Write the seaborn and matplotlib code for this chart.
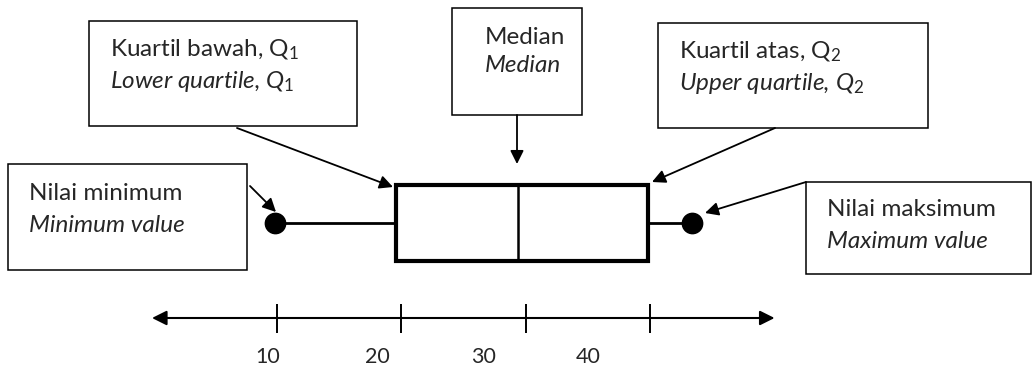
import numpy as np
import matplotlib
matplotlib.use('Agg')
import matplotlib.pyplot as plt
from matplotlib.patches import Rectangle
import seaborn as sns

# five-number summary
stats = [9.9, 19.6, 29.4, 39.8, 43.4]   # min, Q1, median, Q3, max
ticks = [10, 20, 30, 40]
tick_labels = ['10', '20', '30', '40']
line_range = [0, 50]

labels_upright = ['Kuartil bawah, Q$_1$', 'Median', 'Kuartil atas, Q$_2$',
                  'Nilai minimum', 'Nilai maksimum']
labels_italic = ['Lower quartile, Q$_{\\mathit{1}}$', 'Median', 'Upper quartile, Q$_{\\mathit{2}}$',
                 'Minimum value', 'Maximum value']

sns.set_style('white')
plt.rcParams['font.family'] = ['Lato', 'DejaVu Sans']
plt.rcParams['mathtext.fontset'] = 'custom'
plt.rcParams['mathtext.rm'] = 'Lato'
plt.rcParams['mathtext.it'] = 'Lato:italic'
plt.rcParams['mathtext.bf'] = 'Lato:bold'

W, H = 1035, 370
fig = plt.figure(figsize=(W / 100, H / 100), dpi=100)
xlim = (-12.21, 70.92)

# number line axes (x in data, y in pixel rows)
ax = fig.add_axes([0, 0, 1, 1])
ax.set_xlim(*xlim)
ax.set_ylim(H, 0)
ax.axis('off')

ax.annotate('', xy=(line_range[1], 318), xytext=(line_range[0], 318),
            arrowprops=dict(arrowstyle='<|-|>', color='black', lw=1.5,
                            mutation_scale=22, shrinkA=0, shrinkB=0))
ax.vlines(ticks, 304, 333, color='black', lw=1.4)
label_x = [9.3, 18.1, 26.6, 35.0]
for lx, t in zip(label_x, tick_labels):
    ax.text(lx, 357, t, ha='center', va='center', fontsize=15.5)

# box plot axes
bax = fig.add_axes([0, 1 - 270.5 / H, 1, 95 / H])
sns.boxplot(x=stats, ax=bax, whis=np.inf, width=0.8, showcaps=False,
            color='white', linecolor='black', linewidth=2,
            boxprops=dict(linewidth=3), medianprops=dict(linewidth=1.8),
            whiskerprops=dict(linewidth=2))
sns.scatterplot(x=[stats[0], stats[-1]], y=[0, 0], ax=bax, color='black',
                s=210, edgecolor='black', zorder=5)
bax.set_xlim(*xlim)
bax.set_ylim(0.5, -0.5)
bax.axis('off')
bax.patch.set_alpha(0)

# annotation layer in pixels
lay = fig.add_axes([0, 0, 1, 1])
lay.set_xlim(0, W)
lay.set_ylim(H, 0)
lay.axis('off')
lay.patch.set_alpha(0)

boxes = [(89, 21, 357, 126), (452, 8, 582, 115), (658, 23, 928, 128),
         (8, 164, 247, 270), (806, 182, 1031, 274)]
text_pos = [(110, 50, 82), (485, 37, 65), (679, 52, 83), (29, 193, 225), (827, 210, 242)]
for (x0, y0, x1, y1), (tx, ty1, ty2), l1, l2 in zip(boxes, text_pos, labels_upright, labels_italic):
    lay.add_patch(Rectangle((x0, y0), x1 - x0, y1 - y0, fill=False, lw=1.1, ec='black'))
    lay.text(tx, ty1, l1, ha='left', va='center', fontsize=17.5)
    lay.text(tx, ty2, l2, ha='left', va='center', fontsize=17.5, style='italic')

arrows = [((237, 128), (393, 187)), ((517, 115), (517, 164)), ((775, 128), (652, 182)),
          ((250, 186), (276, 212)), ((806, 182), (705, 213))]
for start, end in arrows:
    lay.annotate('', xy=end, xytext=start,
                 arrowprops=dict(arrowstyle='-|>', color='black', lw=1.3,
                                 mutation_scale=20, shrinkA=0, shrinkB=0))

fig.savefig('out.png', dpi=100)
